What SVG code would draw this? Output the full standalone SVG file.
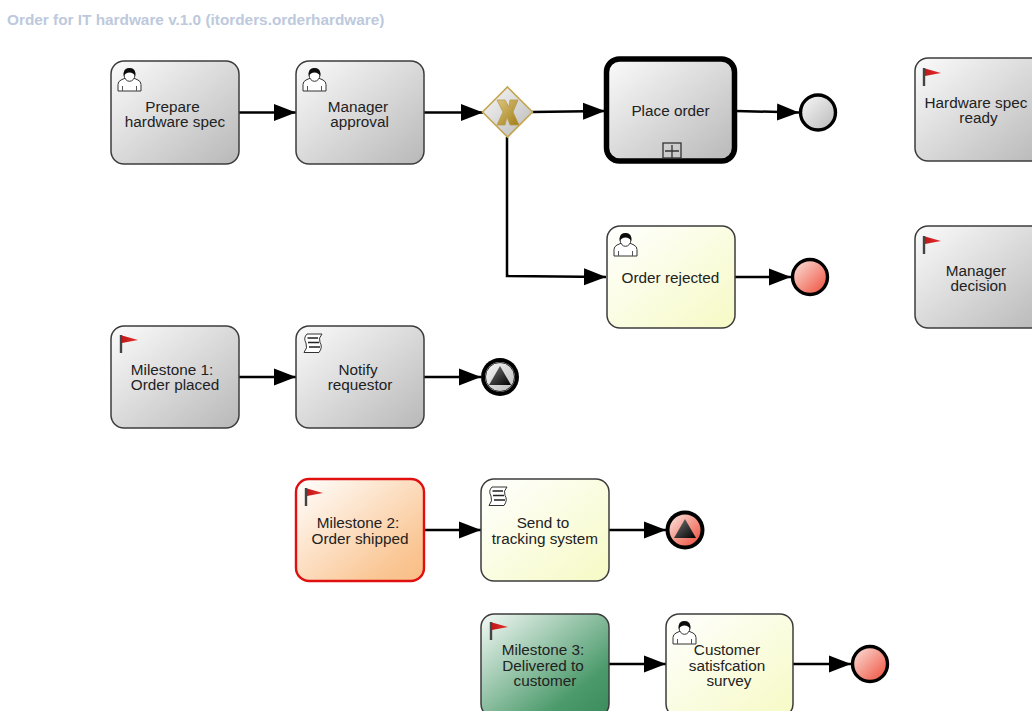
<svg xmlns="http://www.w3.org/2000/svg" width="1032" height="711" viewBox="0 0 1032 711">
<style>
text{font-family:"Liberation Sans",Arial,sans-serif;font-size:15.3px;fill:#222;text-anchor:middle}
.title{font-size:15.35px;font-weight:bold;fill:#bdc9dc;text-anchor:start}
.task{stroke:#3c3c3c;stroke-width:1.5}
.grey{fill:url(#gGrey)}.yellow{fill:url(#gYellow)}.orange{fill:url(#gOrange)}.green{fill:url(#gGreen)}
.conn{fill:none;stroke:#000;stroke-width:2.5;marker-end:url(#arrow)}
.ev{stroke:#000;stroke-width:3.4}
.ic{fill:#fff;stroke:#333;stroke-width:1}
</style>
<defs>
<linearGradient id="gGrey" x1="0" y1="0" x2="1" y2="1"><stop offset="0" stop-color="#fbfbfb"/><stop offset="1" stop-color="#b8b8b8"/></linearGradient>
<linearGradient id="gYellow" x1="0" y1="0" x2="1" y2="1"><stop offset="0" stop-color="#ffffff"/><stop offset="1" stop-color="#f6fac4"/></linearGradient>
<linearGradient id="gOrange" x1="0" y1="0" x2="1" y2="1"><stop offset="0" stop-color="#ffffff"/><stop offset=".8" stop-color="#fac694"/><stop offset="1" stop-color="#f9bd85"/></linearGradient>
<linearGradient id="gGreen" x1="0" y1="0" x2="1" y2="1"><stop offset="0" stop-color="#f4f9f6"/><stop offset=".75" stop-color="#4b9a6b"/><stop offset="1" stop-color="#3a8a5c"/></linearGradient>
<linearGradient id="gRed" x1="0" y1="0" x2="1" y2="1"><stop offset="0" stop-color="#fbe6e0"/><stop offset="1" stop-color="#ee4a36"/></linearGradient>
<linearGradient id="gEv" x1="0" y1="0" x2="1" y2="1"><stop offset="0" stop-color="#fafafa"/><stop offset="1" stop-color="#b8b8b8"/></linearGradient>
<linearGradient id="gTri" x1="0" y1="0" x2="1" y2="1"><stop offset="0" stop-color="#777"/><stop offset="1" stop-color="#000"/></linearGradient>
<linearGradient id="gX" x1="0" y1="0" x2="1" y2="1"><stop offset="0" stop-color="#dcc57e"/><stop offset="1" stop-color="#a17d18"/></linearGradient>
<linearGradient id="gFlag" x1="0" y1="0" x2="1" y2="0"><stop offset="0" stop-color="#c01818"/><stop offset="1" stop-color="#e83030"/></linearGradient>
<marker id="arrow" markerUnits="userSpaceOnUse" markerWidth="24" markerHeight="20" refX="22" refY="9" orient="auto"><path d="M0 0.500L22 9L0 17.500Z" fill="#000"/></marker>
<g id="user">
<path class="ic" d="M0 23V16.500Q0 13.500 3 12L7.500 10H15.500L20 12Q23 13.500 23 16.500V23Z"/>
<path d="M4.500 23V18M18.500 23V18" stroke="#555" fill="none"/>
<ellipse cx="11.500" cy="7" rx="5.400" ry="6.300" fill="#fff" stroke="#333"/>
<path d="M5.800 8Q4.600 0 11.500 0Q18.400 0 17.200 8Q15.500 4.500 11.500 4.500Q7.500 4.500 5.800 8Z" fill="#0c0c0c"/>
</g>
<g id="flag"><path d="M1 0V18" stroke="#444" stroke-width="2.400"/><path d="M2 0.500L18 5L2 8Z" fill="url(#gFlag)"/></g>
<g id="script">
<path class="ic" d="M4 1H19Q15 5 17 9.500Q20 14 16 19.500H1Q5 15 3 10Q0 5 4 1Z" stroke-width="1.500"/>
<path d="M4.500 5H15M5 9.500H16M6 14H17" stroke="#222" fill="none" stroke-width="1.500"/>
</g>
</defs>
<rect width="1032" height="711" fill="#fff"/>
<text class="title" x="7" y="25">Order for IT hardware v.1.0 (itorders.orderhardware)</text>

<g id="connectors">
<path class="conn" d="M239 112.500H296"/>
<path class="conn" d="M424 112.500H483"/>
<path class="conn" d="M532 112L605 111"/>
<path class="conn" d="M736 111L799 112.500"/>
<path class="conn" d="M507 137V276L606 277"/>
<path class="conn" d="M735 277H791"/>
<path class="conn" d="M239 377H296"/>
<path class="conn" d="M424 377H481"/>
<path class="conn" d="M424 530H481"/>
<path class="conn" d="M609 530H666"/>
<path class="conn" d="M609 664H666"/>
<path class="conn" d="M793 664H851"/>
</g>

<g id="prepare"><rect class="task grey" x="111" y="61" width="128" height="103" rx="13"/><use href="#user" x="118" y="68"/><text x="172.500" y="111.500">Prepare</text><text x="175" y="126.500">hardware spec</text></g>
<g id="manager"><rect class="task grey" x="296" y="61" width="128" height="103" rx="13"/><use href="#user" x="303" y="68"/><text x="358" y="111.500">Manager</text><text x="359.500" y="126.500">approval</text></g>
<g id="gateway"><path d="M507.500 87L532.500 112L507.500 137L482.500 112Z" fill="url(#gEv)" stroke="#c4a652" stroke-width="1.600"/><path d="M497 100H505L509 107L510 100H518L513 112L519 125H510L507 117L505 125H497L503 112Z" fill="url(#gX)" stroke="#b89a48" stroke-width=".8"/></g>
<g id="place-order"><rect x="606.500" y="59" width="128" height="102" rx="13" class="grey" stroke="#000" stroke-width="5.500"/><text x="670.500" y="116">Place order</text><rect x="663" y="143" width="18" height="15" fill="none" stroke="#333" stroke-width="1.300"/><path d="M672 145V158M665 151H679" stroke="#333" stroke-width="1.300" fill="none"/></g>
<g id="end-1"><circle class="ev" cx="818" cy="112.500" r="17.500" fill="url(#gEv)"/></g>
<g id="hardware-ready"><rect class="task grey" x="915" y="58" width="130" height="103" rx="13"/><use href="#flag" x="923" y="68"/><text x="976" y="108">Hardware spec</text><text x="978.500" y="123">ready</text></g>
<g id="manager-decision"><rect class="task grey" x="915" y="226" width="130" height="102" rx="13"/><use href="#flag" x="923" y="236"/><text x="976" y="276">Manager</text><text x="978.500" y="291">decision</text></g>
<g id="rejected"><rect class="task yellow" x="607" y="226" width="128" height="102" rx="13"/><use href="#user" x="614" y="233"/><text x="670.500" y="283">Order rejected</text></g>
<g id="end-2"><circle class="ev" cx="810" cy="277" r="17.500" fill="url(#gRed)"/></g>
<g id="milestone-1"><rect class="task grey" x="111" y="326" width="128" height="102" rx="13"/><use href="#flag" x="120" y="335"/><text x="172" y="375">Milestone 1:</text><text x="175" y="390">Order placed</text></g>
<g id="notify"><rect class="task grey" x="296" y="326" width="128" height="102" rx="13"/><use href="#script" x="303" y="333"/><text x="358" y="375">Notify</text><text x="360" y="390">requestor</text></g>
<g id="end-3"><circle cx="500" cy="377" r="19" fill="#000"/><circle cx="500" cy="377" r="15" fill="url(#gEv)"/><circle cx="500" cy="377" r="14.500" fill="none" stroke="#000" stroke-width=".8"/><path d="M500 366L511 385H489Z" fill="url(#gTri)"/></g>
<g id="milestone-2"><rect x="296" y="479" width="128" height="102" rx="13" class="orange" stroke="#e01010" stroke-width="2.400"/><use href="#flag" x="305" y="488"/><text x="358" y="528">Milestone 2:</text><text x="360" y="544">Order shipped</text></g>
<g id="send"><rect class="task yellow" x="481" y="479" width="128" height="102" rx="13"/><use href="#script" x="488" y="486"/><text x="543" y="528">Send to</text><text x="545" y="544">tracking system</text></g>
<g id="end-4"><circle cx="685" cy="530" r="19.500" fill="#000"/><circle cx="685" cy="530" r="15.500" fill="url(#gRed)"/><path d="M685 519L696 538H674Z" fill="url(#gTri)"/></g>
<g id="milestone-3"><rect class="task green" x="481" y="614" width="128" height="103" rx="13"/><use href="#flag" x="490" y="622"/><text x="543" y="655">Milestone 3:</text><text x="543" y="671">Delivered to</text><text x="545" y="686">customer</text></g>
<g id="survey"><rect class="task yellow" x="666" y="614" width="127" height="103" rx="13"/><use href="#user" x="673" y="621"/><text x="727" y="655">Customer</text><text x="727" y="671">satisfcation</text><text x="729" y="686">survey</text></g>
<g id="end-5"><circle class="ev" cx="870" cy="664" r="17.500" fill="url(#gRed)"/></g>
</svg>
